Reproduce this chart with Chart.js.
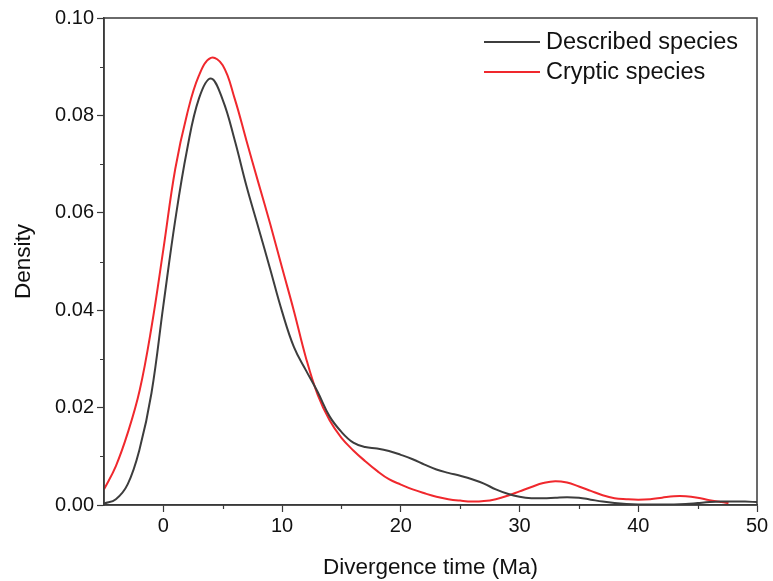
<!DOCTYPE html>
<html>
<head>
<meta charset="utf-8">
<script src="https://cdn.jsdelivr.net/npm/chart.js@4/dist/chart.umd.min.js"></script>
<style>
html,body{margin:0;padding:0;background:#fff;}
#wrap{width:773px;height:581px;}
</style>
</head>
<body>
<div id="wrap"><canvas id="c" width="773" height="581"></canvas></div>
<script>
// ---- data ----
const seriesNames = ["Described species", "Cryptic species"];
const describedX = [-5,-4,-3,-2,-1,0,1,2,3,4,5,6,7,8,9,10,11,12,13,14,15,16,17,18,19,20,21,22,23,24,25,26,27,28,29,30,31,32,33,34,35,36,37,38,39,40,41,42,43,44,45,46,47,48,49,50];
const describedY = [0.0003,0.0012,0.0043,0.0115,0.0230,0.0410,0.0585,0.0730,0.0835,0.0876,0.0832,0.0750,0.0655,0.0570,0.0484,0.0397,0.0324,0.0277,0.0232,0.0182,0.0150,0.0128,0.0119,0.0116,0.0111,0.0103,0.0094,0.0083,0.0073,0.0066,0.0060,0.0053,0.0044,0.0032,0.0023,0.0017,0.0014,0.0014,0.0015,0.0016,0.0015,0.0011,0.0007,0.0004,0.0002,0.0001,0.0001,0.0001,0.0001,0.0002,0.0004,0.0006,0.0007,0.0007,0.0007,0.0006];
const crypticX = [-5,-4,-3,-2,-1,0,1,2,3,4,5,6,7,8,9,10,11,12,13,14,15,16,17,18,19,20,21,22,23,24,25,26,27,28,29,30,31,32,33,34,35,36,37,38,39,40,41,42,43,44,45,46,47,47.6];
const crypticY = [0.0032,0.0080,0.0148,0.0235,0.0365,0.0525,0.0690,0.0803,0.0882,0.0918,0.0903,0.0835,0.0748,0.0662,0.0577,0.0487,0.0398,0.0303,0.0226,0.0174,0.0138,0.0112,0.0090,0.0070,0.0053,0.0042,0.0032,0.0024,0.0017,0.0012,0.0009,0.0007,0.0008,0.0012,0.0019,0.0028,0.0037,0.0045,0.0049,0.0046,0.0038,0.0029,0.0020,0.0014,0.0012,0.0011,0.0012,0.0015,0.0018,0.0018,0.0015,0.0010,0.0006,0.0004];
const xTickLabels = ["0","10","20","30","40","50"];
const yTickLabels = ["0.00","0.02","0.04","0.06","0.08","0.10"];

const toPts = (xs, ys) => xs.map((x, i) => ({x: x, y: ys[i]}));
const AXIS_COLOR = '#3a3a3a';
const FONT = 'Liberation Sans, Arial, sans-serif';

const framePlugin = {
  id: 'frame',
  afterDraw(chart) {
    const ctx = chart.ctx, a = chart.chartArea;
    ctx.save();
    ctx.strokeStyle = AXIS_COLOR;
    ctx.lineWidth = 1.5;
    ctx.strokeRect(a.left, a.top, a.right - a.left, a.bottom - a.top);
    // minor ticks
    const xs = chart.scales.x, ys = chart.scales.y;
    ctx.lineWidth = 1.2;
    ctx.beginPath();
    for (let v = 5; v < 50; v += 10) {
      const px = Math.round(xs.getPixelForValue(v)) + 0.5;
      ctx.moveTo(px, a.bottom); ctx.lineTo(px, a.bottom + 4);
    }
    for (let v = 0.01; v < 0.1; v += 0.02) {
      const py = Math.round(ys.getPixelForValue(v)) + 0.5;
      ctx.moveTo(a.left, py); ctx.lineTo(a.left - 4, py);
    }
    ctx.stroke();
    // legend
    const items = chart.data.datasets;
    ctx.font = '23.5px ' + FONT;
    ctx.textBaseline = 'middle';
    ctx.fillStyle = '#111';
    items.forEach((ds, i) => {
      const y = 42 + i * 30;
      ctx.strokeStyle = ds.borderColor;
      ctx.lineWidth = 1.8;
      ctx.beginPath(); ctx.moveTo(484, y); ctx.lineTo(540, y); ctx.stroke();
      ctx.fillText(ds.label, 546, y + 1);
    });
    ctx.restore();
  }
};

new Chart(document.getElementById('c'), {
  type: 'scatter',
  data: {
    datasets: [
      {label: seriesNames[0], data: toPts(describedX, describedY), showLine: true, borderColor: '#3d3d3d', borderWidth: 2, pointRadius: 0, tension: 0.4},
      {label: seriesNames[1], data: toPts(crypticX, crypticY), showLine: true, borderColor: '#f0282d', borderWidth: 2, pointRadius: 0, tension: 0.4}
    ]
  },
  options: {
    responsive: false,
    animation: false,
    layout: {padding: {left: 0, right: 16, top: 18, bottom: 0}},
    plugins: {legend: {display: false}, tooltip: {enabled: false}},
    scales: {
      x: {
        type: 'linear', min: -5, max: 50,
        afterFit(s) { s.height = 76; },
        afterBuildTicks(s) { s.ticks = xTickLabels.map(t => ({value: Number(t)})); },
        grid: {drawOnChartArea: false, tickLength: 7, tickColor: AXIS_COLOR, tickWidth: 1.2},
        border: {color: AXIS_COLOR, width: 1.5},
        ticks: {color: '#111', font: {size: 20, family: FONT}, padding: 2, maxRotation: 0,
          callback: (v) => xTickLabels.includes(String(v)) ? String(v) : ''},
        title: {display: true, text: 'Divergence time (Ma)', color: '#111', font: {size: 22.5, family: FONT}, padding: {top: 6, bottom: 0}}
      },
      y: {
        type: 'linear', min: 0, max: 0.1,
        afterFit(s) { s.width = 104; },
        afterBuildTicks(s) { s.ticks = yTickLabels.map(t => ({value: Number(t)})); },
        grid: {drawOnChartArea: false, tickLength: 7, tickColor: AXIS_COLOR, tickWidth: 1.2},
        border: {color: AXIS_COLOR, width: 1.5},
        ticks: {color: '#111', font: {size: 20, family: FONT}, padding: 3,
          callback: (v) => yTickLabels[Math.round(v / 0.02)]},
        title: {display: true, text: 'Density', color: '#111', font: {size: 22.5, family: FONT}, padding: {top: 10, bottom: 0}}
      }
    }
  },
  plugins: [framePlugin]
});
</script>
</body>
</html>
